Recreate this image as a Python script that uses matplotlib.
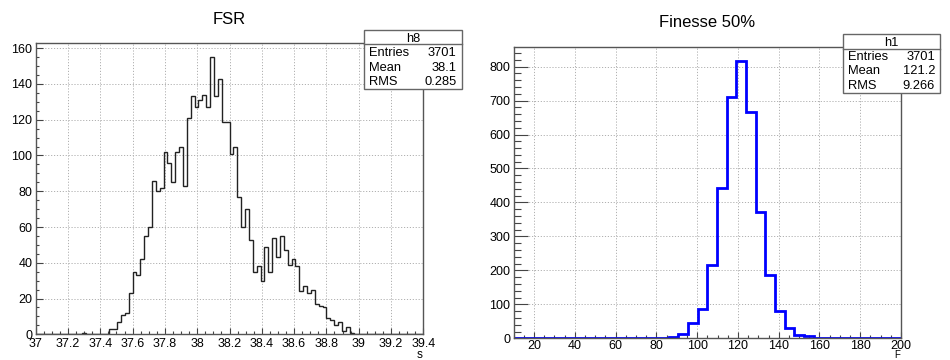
import numpy as np
import matplotlib
matplotlib.use("Agg")
import matplotlib.pyplot as plt
from matplotlib.ticker import MultipleLocator, FuncFormatter
from matplotlib.patches import Rectangle
from matplotlib.lines import Line2D

plt.rcParams['font.family'] = ['Liberation Sans', 'DejaVu Sans']

# ---------------- data ----------------
fsr_title = "FSR"
fsr_name = "h8"
fsr_range = (37.0, 39.4)
fsr_nbins = 100
fsr_counts = ([0] * 12 + [1] + [0] * 6 +
              [3, 3, 7, 11, 12, 23, 35, 33, 42, 55, 60, 86, 80, 82, 102, 96, 85, 102,
               105, 83, 121, 133, 127, 131, 134, 127, 155, 133, 143, 119, 119, 101, 105,
               77, 60, 70, 53, 35, 38, 30, 49, 35, 54, 43, 55, 47, 39, 42, 38, 24, 27,
               23, 25, 17, 16, 15, 9, 8, 5, 7, 2, 4, 1] +
              [0] * 18)
fsr_stats = [("Entries", "3701"), ("Mean", "38.1"), ("RMS", "0.285")]
fsr_xlabel = "s"

fin_title = "Finesse 50%"
fin_name = "h1"
fin_range = (10.0, 200.0)
fin_nbins = 40
fin_counts = ([0] * 16 +
              [4, 14, 45, 86, 217, 444, 711, 816, 666, 373, 187, 81, 31, 11, 6, 2, 1] +
              [0] * 7)
fin_stats = [("Entries", "3701"), ("Mean", "121.2"), ("RMS", "9.266")]
fin_xlabel = "F"

W, H = 950, 360
fig = plt.figure(figsize=(W / 100, H / 100), dpi=100)

TICK_FS = 9.0
STAT_FS = 9.3
TITLE_FS = 12.0


def fmt(v, pos):
    s = f"{v:.2f}".rstrip('0').rstrip('.')
    return "0" if s in ("-0", "") else s


def px_axes(x0, y0, x1, y1):
    return fig.add_axes([x0 / W, 1 - y1 / H, (x1 - x0) / W, (y1 - y0) / H])


def style_axes(ax, xmaj, xmin, ymaj, ymin, ytl_major, ytl_minor, xpad=2.5):
    ax.xaxis.set_major_locator(MultipleLocator(xmaj))
    ax.xaxis.set_minor_locator(MultipleLocator(xmin))
    ax.yaxis.set_major_locator(MultipleLocator(ymaj))
    ax.yaxis.set_minor_locator(MultipleLocator(ymin))
    ax.xaxis.set_major_formatter(FuncFormatter(fmt))
    ax.yaxis.set_major_formatter(FuncFormatter(fmt))
    ax.tick_params(axis='x', which='major', direction='in', length=4.5, width=0.8,
                   color='#444444', labelsize=TICK_FS, pad=xpad, top=False)
    ax.tick_params(axis='x', which='minor', direction='in', length=2.2, width=0.8,
                   color='#444444', top=False)
    ax.tick_params(axis='y', which='major', direction='in', length=ytl_major, width=0.8,
                   color='#444444', labelsize=TICK_FS, pad=2.5, right=False)
    ax.tick_params(axis='y', which='minor', direction='in', length=ytl_minor, width=0.8,
                   color='#444444', right=False)
    for sp in ax.spines.values():
        sp.set_color('#555555')
        sp.set_linewidth(1.0)
    ax.grid(True, which='major', linestyle=(0, (1.2, 1.8)), color='#b0b0b0', linewidth=0.7)
    ax.set_axisbelow(True)


def stats_box(x0, y0, x1, y1, yline, name, stats, rows_y, lab_x, val_x, name_y):
    fig.patches.append(Rectangle((x0 / W, 1 - y1 / H), (x1 - x0) / W, (y1 - y0) / H,
                                 transform=fig.transFigure, facecolor='white',
                                 edgecolor='#666666', linewidth=1.0, zorder=5))
    fig.lines.append(Line2D([x0 / W, x1 / W], [1 - yline / H, 1 - yline / H],
                            transform=fig.transFigure, color='#666666', linewidth=1.0,
                            zorder=6))
    fig.text((x0 + x1) / 2 / W, 1 - name_y / H, name, ha='center', va='center',
             fontsize=STAT_FS, zorder=7)
    for (lab, val), ry in zip(stats, rows_y):
        fig.text(lab_x / W, 1 - ry / H, lab, ha='left', va='center', fontsize=STAT_FS, zorder=7)
        fig.text(val_x / W, 1 - ry / H, val, ha='right', va='center', fontsize=STAT_FS, zorder=7)


# ---------------- left: FSR ----------------
ax1 = px_axes(35.7, 43.3, 423.3, 334.3)
edges1 = np.linspace(fsr_range[0], fsr_range[1], fsr_nbins + 1)
c1 = np.array(fsr_counts, dtype=float)
ax1.stairs(c1, edges1, color='#222222', linewidth=1.0, baseline=0)
ax1.set_xlim(fsr_range)
ax1.set_ylim(0, c1.max() * 1.05)
style_axes(ax1, 0.2, 0.05, 20, 5, 5, 2.5)
fig.text(420 / W, 1 - 354.5 / H, fsr_xlabel, ha='center', va='center', fontsize=8.5)
fig.text(229 / W, 1 - 19.5 / H, fsr_title, ha='center', va='center', fontsize=TITLE_FS)
stats_box(364.3, 30, 461.7, 89.3, 44.3, fsr_name, fsr_stats,
          [53.5, 67.8, 81.8], 369.3, 456.7, 38.5)

# ---------------- right: Finesse ----------------
ax2 = px_axes(513.7, 47.3, 901.0, 338.3)
edges2 = np.linspace(fin_range[0], fin_range[1], fin_nbins + 1)
c2 = np.array(fin_counts, dtype=float)
ax2.stairs(c2, edges2, color='#0000ff', linewidth=2.0, baseline=0)
ax2.set_xlim(fin_range)
ax2.set_ylim(0, c2.max() * 1.05)
style_axes(ax2, 20, 5, 100, 20, 10, 5, xpad=1.5)
fig.text(897 / W, 1 - 359.5 / H, fin_xlabel, ha='center', va='bottom', fontsize=7)
fig.text(707 / W, 1 - 22.5 / H, fin_title, ha='center', va='center', fontsize=TITLE_FS)
stats_box(843, 34.3, 940.3, 93, 48.5, fin_name, fin_stats,
          [57.3, 71.3, 85.7], 847.7, 935, 42.5)

fig.savefig("out.png", dpi=100)
